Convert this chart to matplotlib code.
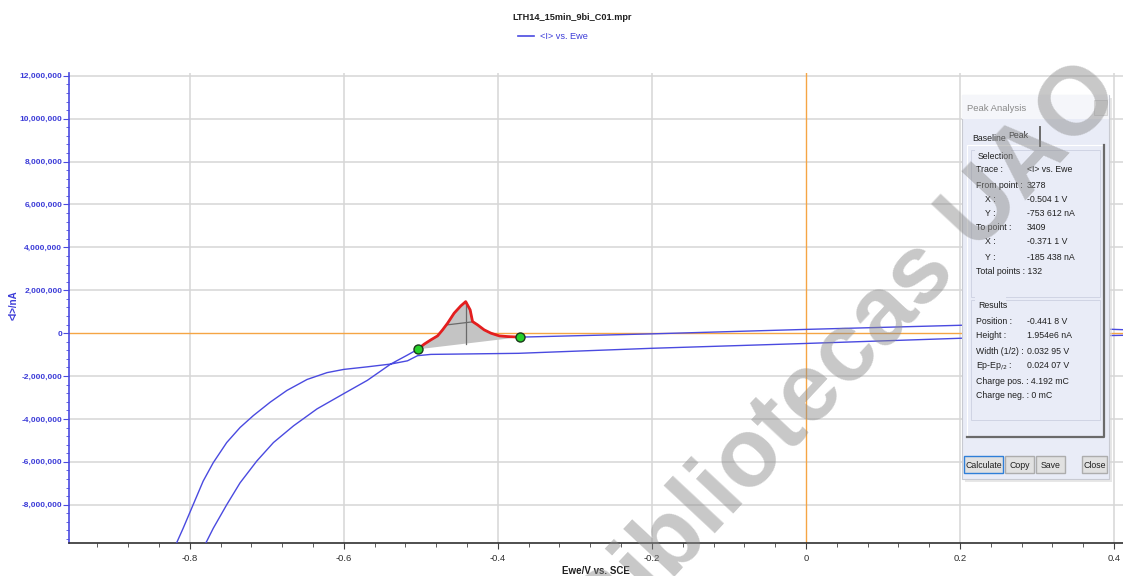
import matplotlib
matplotlib.use("Agg")
import matplotlib.pyplot as plt
from matplotlib import font_manager as fm
from matplotlib.ticker import MultipleLocator, FuncFormatter
from matplotlib.patches import Rectangle, Polygon

# ---------------- data ----------------
# forward scan, rising branch up to the start of the peak selection
rise_x = [-0.7804, -0.7696, -0.7521, -0.7348, -0.7130, -0.6914, -0.6653, -0.6348, -0.6001,
          -0.5695, -0.5391, -0.5174]
rise_y = [-9.87e6, -9.10e6, -8.00e6, -6.98e6, -5.96e6, -5.10e6, -4.32e6, -3.53e6, -2.82e6,
          -2.20e6, -1.44e6, -1.02e6]
# selected peak region (red), from point 3278 to point 3409
peak_x = [-0.5041, -0.4957, -0.4870, -0.4783, -0.4718, -0.4653, -0.4568, -0.4481, -0.4418,
          -0.4360, -0.4329, -0.4264, -0.4178, -0.4091, -0.3983, -0.3874, -0.3711]
peak_y = [-0.7536e6, -0.513e6, -0.312e6, -0.126e6, 0.154e6, 0.466e6, 0.932e6, 1.273e6, 1.47e6,
          1.086e6, 0.541e6, 0.387e6, 0.154e6, 0.0, -0.126e6, -0.159e6, -0.1854e6]
# forward scan after the peak
upper_x = [-0.2003, 0.0000, 0.2034, 0.3000, 0.4130]
upper_y = [-0.033e6, 0.175e6, 0.370e6, 0.300e6, 0.160e6]
# reverse scan
lower_x = [0.4130, 0.2034, 0.0000, -0.2003, -0.3733, -0.4870, -0.5043, -0.5174, -0.5391,
           -0.5695, -0.6001, -0.6218, -0.6478, -0.6739, -0.6957, -0.7174, -0.7348, -0.7521,
           -0.7696, -0.7827, -0.7957, -0.8087, -0.8183]
lower_y = [-0.100e6, -0.235e6, -0.480e6, -0.706e6, -0.940e6, -0.990e6, -1.05e6, -1.29e6, -1.44e6,
           -1.57e6, -1.69e6, -1.84e6, -2.16e6, -2.67e6, -3.22e6, -3.84e6, -4.40e6, -5.10e6,
           -6.04e6, -6.90e6, -8.00e6, -9.10e6, -9.87e6]

# peak analysis results
peak_position = -0.4418
peak_height = 1.954e6
width_half = 0.03295
ep_ep2 = 0.02407

x_ticks = [-0.8, -0.6, -0.4, -0.2, 0.0, 0.2, 0.4]
y_ticks = [-8e6, -6e6, -4e6, -2e6, 0, 2e6, 4e6, 6e6, 8e6, 10e6, 12e6]

# ---------------- fonts ----------------
names = {f.name for f in fm.fontManager.ttflist}
NARROW = 'Liberation Sans Narrow' if 'Liberation Sans Narrow' in names else 'Liberation Sans'
plt.rcParams['font.family'] = [NARROW, 'DejaVu Sans']

BLUE = '#4a4ae0'
TBLUE = '#3c3cd8'
ORANGE = '#f5a544'
TXT = '#202020'

W, H = 1123, 576
fig = plt.figure(figsize=(W / 100, H / 100), dpi=100)
fig.patch.set_facecolor('white')

ax_l, ax_r, ax_t, ax_b = 69.3, 1123, 73, 542.7
ax = fig.add_axes([ax_l / W, 1 - ax_b / H, (ax_r - ax_l) / W, (ax_b - ax_t) / H])
ax.set_xlim(-0.9565, 0.4117)
ax.set_ylim(-9.77e6, 12.13e6)

ax.set_xticks(x_ticks)
ax.set_yticks(y_ticks)
ax.xaxis.set_minor_locator(MultipleLocator(0.04))
ax.yaxis.set_minor_locator(MultipleLocator(400000))
ax.yaxis.set_major_formatter(FuncFormatter(lambda v, p: f"{int(round(v)):,}"))
ax.xaxis.set_major_formatter(FuncFormatter(lambda v, p: "0" if abs(v) < 1e-9 else f"{v:.1f}"))

for s in ['top', 'right']:
    ax.spines[s].set_visible(False)
ax.spines['left'].set_color(BLUE)
ax.spines['left'].set_linewidth(1.2)
ax.spines['bottom'].set_color('#303030')
ax.spines['bottom'].set_linewidth(1.2)

ax.tick_params(axis='y', which='major', length=4, color=BLUE, labelcolor=TBLUE, labelsize=6, pad=1)
ax.tick_params(axis='y', which='minor', length=2, color=BLUE)
ax.tick_params(axis='x', which='major', length=4, color='#404040', labelcolor='#303030', labelsize=6.8, pad=4)
ax.tick_params(axis='x', which='minor', length=3, color='#404040')
for lab in ax.get_yticklabels():
    lab.set_fontweight('bold')

# grid (major), except the zero lines, which are orange
for xv in x_ticks:
    if abs(xv) > 1e-9:
        ax.axvline(xv, color='#d6d6d6', lw=1.1, zorder=0)
for yv in y_ticks:
    if abs(yv) > 1e-9:
        ax.axhline(yv, color='#d6d6d6', lw=1.1, zorder=0)
ax.axhline(0, color=ORANGE, lw=1.0, zorder=1)
ax.axvline(0, color=ORANGE, lw=1.0, zorder=1)

# full trace
trace_x = rise_x + peak_x + upper_x + lower_x
trace_y = rise_y + peak_y + upper_y + lower_y
ax.plot(trace_x, trace_y, color=BLUE, lw=1.0, zorder=3)

# baseline of selection and filled area
bx = [peak_x[0], peak_x[-1]]
by = [peak_y[0], peak_y[-1]]
def base(x):
    return by[0] + (by[1] - by[0]) * (x - bx[0]) / (bx[1] - bx[0])
poly = list(zip(peak_x, peak_y))
ax.add_patch(Polygon(poly, closed=True, facecolor='#c4c4c4', edgecolor='none', zorder=2))
# vertical peak line and half-height line
ax.plot([peak_position, peak_position], [base(peak_position), base(peak_position) + peak_height],
        color='#6a6a6a', lw=0.9, zorder=4)
xl = peak_position - ep_ep2
xr = xl + width_half
ax.plot([xl, xr], [base(xl) + peak_height / 2, base(xr) + peak_height / 2], color='#6a6a6a', lw=0.9, zorder=4)
ax.plot(peak_x, peak_y, color='#e41e1e', lw=2.0, zorder=5)
ax.plot(bx, by, linestyle='none', marker='o', markersize=6.5, markerfacecolor='#27d02a',
        markeredgecolor='#1a3a1a', markeredgewidth=1.0, zorder=6)

ax.set_xlabel('Ewe/V vs. SCE', fontsize=7, fontweight='bold', color=TXT, labelpad=2)
ax.set_ylabel('<I>/nA', fontsize=7, fontweight='bold', color=TBLUE)
ax.yaxis.set_label_coords(-0.048, 0.505)

# ---------------- overlay (title, legend, dialog, watermark) ----------------
ov = fig.add_axes([0, 0, 1, 1], zorder=10)
ov.set_xlim(0, W)
ov.set_ylim(H, 0)
ov.axis('off')
ov.patch.set_alpha(0)

ov.text(572, 18, 'LTH14_15min_9bi_C01.mpr', ha='center', va='center', fontsize=6.6,
        fontweight='bold', color=TXT)
ov.plot([518, 534], [36, 36], color=BLUE, lw=1.2)
ov.text(540, 36.5, '<I> vs. Ewe', ha='left', va='center', fontsize=6.6, color=TBLUE)

FS = 6.3
# dialog
ov.add_patch(Rectangle((965, 98), 147, 384, facecolor='#d8d8d8', edgecolor='none', alpha=0.6))
ov.add_patch(Rectangle((962, 95), 147, 384, facecolor='#e9ecf7', edgecolor='#c8cad2', lw=0.8))
ov.add_patch(Rectangle((962, 95), 147, 24, facecolor='#f5f6fa', edgecolor='none'))
ov.text(967, 111, 'Peak Analysis', ha='left', va='baseline', fontsize=6.8, color='#8a8a8a')
ov.add_patch(Rectangle((1094, 100), 13, 15, facecolor='#e6e6e6', edgecolor='#d0d0d0', lw=0.6))
# tab panel
ov.add_patch(Rectangle((967, 145), 137, 292, facecolor='#e9ecf7', edgecolor='#ffffff', lw=0.8))
ov.plot([1104, 1104, 967], [145, 437, 437], color='#6a6a6a', lw=1.6)
ov.text(972, 141, 'Baseline', ha='left', va='baseline', fontsize=FS, color=TXT)
ov.text(1008, 138, 'Peak', ha='left', va='baseline', fontsize=FS, color=TXT)
ov.plot([1040, 1040], [127, 146], color='#6a6a6a', lw=1.4)
# group boxes
ov.add_patch(Rectangle((971, 150), 129, 147, facecolor='none', edgecolor='#d0d4e4', lw=0.7))
ov.add_patch(Rectangle((971, 300), 129, 120, facecolor='none', edgecolor='#d0d4e4', lw=0.7))
ov.add_patch(Rectangle((975, 147), 36, 8, facecolor='#e9ecf7', edgecolor='none'))
ov.add_patch(Rectangle((975, 297), 31, 8, facecolor='#e9ecf7', edgecolor='none'))
ov.text(978, 159, 'Selection', ha='left', va='baseline', fontsize=FS, color=TXT)
ov.text(978, 308, 'Results', ha='left', va='baseline', fontsize=FS, color=TXT)

rows = [
    (976, 170, 'Trace :', '<I> vs. Ewe'),
    (976, 185, 'From point :', '3278'),
    (985, 199, 'X :', '-0.504 1 V'),
    (985, 213, 'Y :', '-753 612 nA'),
    (976, 227, 'To point :', '3409'),
    (985, 242, 'X :', '-0.371 1 V'),
    (985, 257, 'Y :', '-185 438 nA'),
    (976, 272, 'Total points : 132', None),
    (976, 322, 'Position :', '-0.441 8 V'),
    (976, 336, 'Height :', '1.954e6 nA'),
    (976, 351, 'Width (1/2) :', '0.032 95 V'),
    (976, 366, 'Ep-Ep$_{/2}$ :', '0.024 07 V'),
    (976, 381, 'Charge pos. : 4.192 mC', None),
    (976, 396, 'Charge neg. : 0 mC', None),
]
for x0, y0, lab, val in rows:
    ov.text(x0, y0 + 2.5, lab, ha='left', va='baseline', fontsize=FS, color=TXT)
    if val is not None:
        ov.text(1027, y0 + 2.5, val, ha='left', va='baseline', fontsize=FS, color=TXT)

# buttons
buttons = [(964, 39, 'Calculate', '#2f7fd8'), (1005, 29, 'Copy', '#adadad'),
           (1036, 29, 'Save', '#adadad'), (1082, 25, 'Close', '#adadad')]
for bx0, bw, lab, ec in buttons:
    ov.add_patch(Rectangle((bx0, 456), bw, 17, facecolor='#e1e1e1', edgecolor=ec, lw=1.0))
    ov.text(bx0 + bw / 2, 467.5, lab, ha='center', va='baseline', fontsize=FS, color=TXT)

# watermark
ov.text(864, 374, 'Bibliotecas UAO', ha='center', va='baseline', rotation=47, rotation_mode='anchor',
        fontsize=70, fontweight='bold', color='#8c8c8c', alpha=0.48,
        family=['Liberation Sans', 'DejaVu Sans'], zorder=20)

fig.savefig('out.png', dpi=100)
